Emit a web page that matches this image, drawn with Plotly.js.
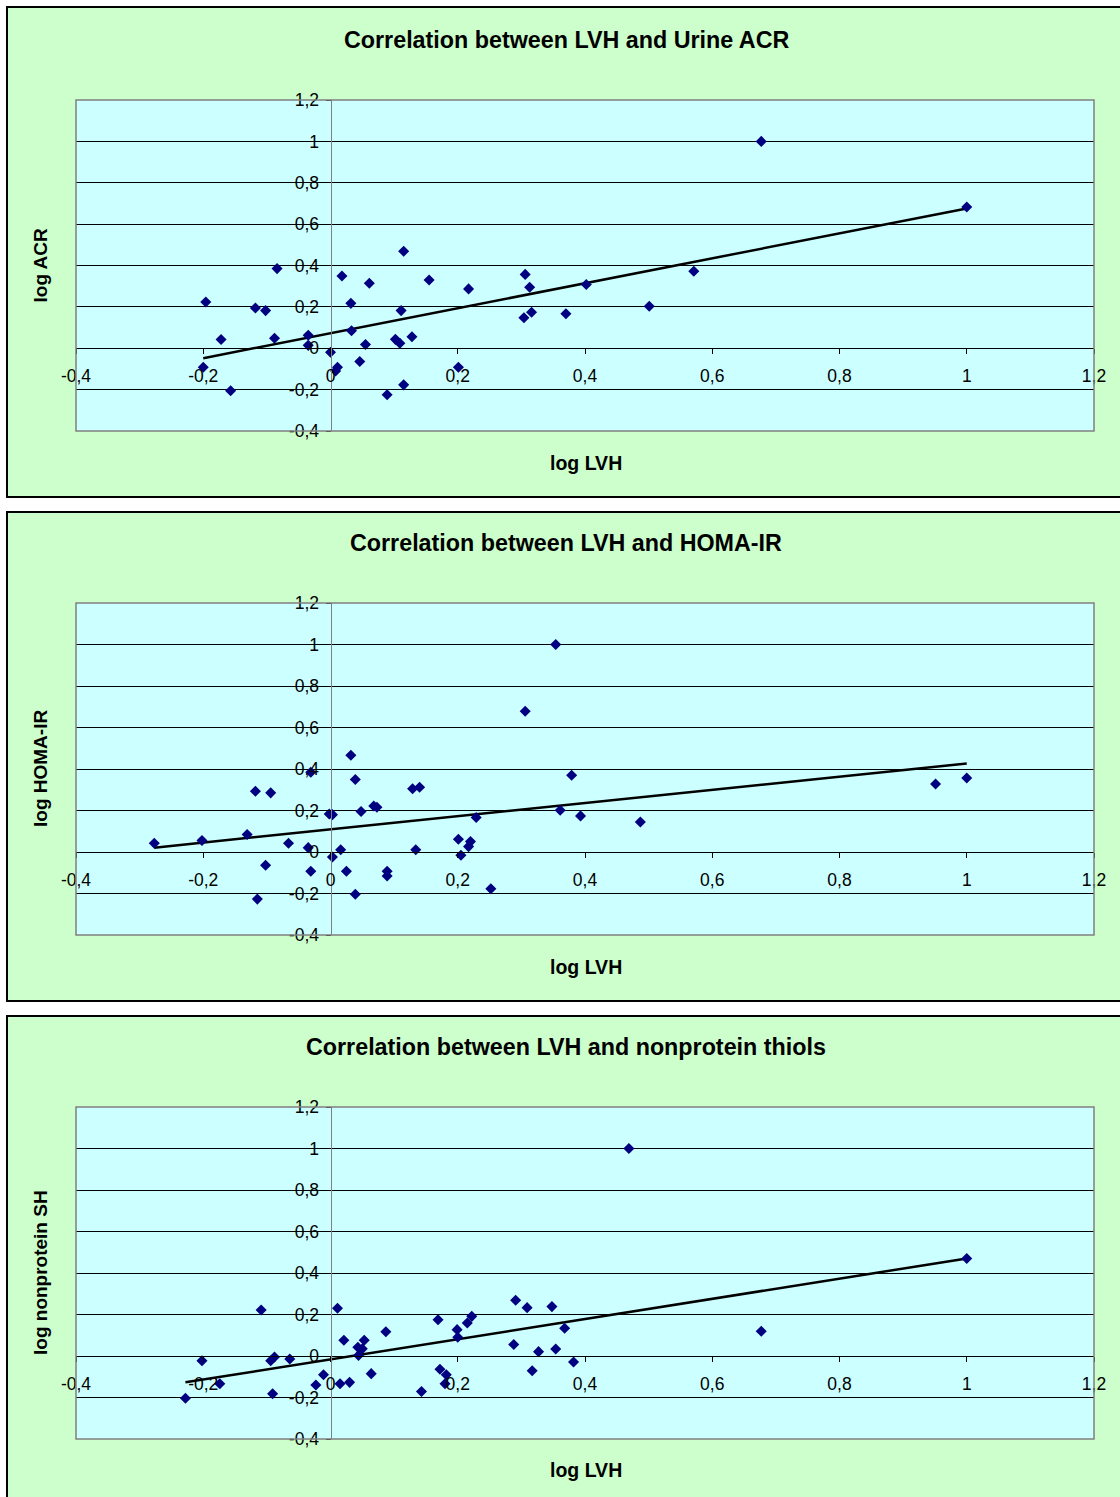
<!DOCTYPE html>
<html>
<head>
<meta charset="utf-8">
<script src="https://cdn.plot.ly/plotly-3.0.1.min.js"></script>
<style>
html,body{margin:0;padding:0;background:#fff;}
#chart{width:1120px;height:1497px;}
</style>
</head>
<body>
<div id="chart"></div>
<script>
// ---------- data ----------
var chartTitles = ["Correlation between LVH and Urine ACR",
                   "Correlation between LVH and HOMA-IR",
                   "Correlation between LVH and nonprotein thiols"];
var xTitle = "log LVH";
var yTitles = ["log ACR", "log HOMA-IR", "log nonprotein SH"];

var tickVals = [-0.4, -0.2, 0, 0.2, 0.4, 0.6, 0.8, 1, 1.2];
var tickText = ["-0,4", "-0,2", "0", "0,2", "0,4", "0,6", "0,8", "1", "1,2"];

// Panel 1: log LVH vs log ACR
var acrX = [-0.196,-0.172,-0.200,-0.157,-0.118,-0.102,-0.084,-0.088,-0.035,-0.035,0.000,0.011,0.008,0.018,0.032,0.033,0.046,0.055,0.061,0.089,0.102,0.109,0.111,0.115,0.115,0.128,0.155,0.201,0.217,0.306,0.313,0.304,0.316,0.370,0.402,0.501,0.571,0.677,1.000];
var acrY = [0.224,0.042,-0.092,-0.205,0.195,0.182,0.385,0.048,0.063,0.014,-0.019,-0.092,-0.110,0.349,0.217,0.085,-0.064,0.018,0.314,-0.225,0.043,0.024,0.182,0.469,-0.177,0.056,0.330,-0.092,0.287,0.357,0.295,0.147,0.174,0.167,0.308,0.203,0.372,1.000,0.683];
var acrTrendX = [-0.2, 1.0];
var acrTrendY = [-0.048, 0.676];

// Panel 2: log LVH vs log HOMA-IR
var homaX = [-0.277,-0.202,-0.131,-0.118,-0.094,-0.115,-0.102,-0.066,-0.035,-0.031,-0.031,-0.002,0.003,0.003,0.016,0.025,0.032,0.039,0.039,0.048,0.068,0.073,0.089,0.089,0.129,0.140,0.134,0.201,0.205,0.217,0.220,0.229,0.252,0.306,0.354,0.361,0.379,0.393,0.487,0.951,1.000];
var homaY = [0.042,0.055,0.084,0.293,0.285,-0.227,-0.064,0.042,0.021,0.384,-0.093,0.183,0.180,-0.024,0.011,-0.093,0.466,0.349,-0.204,0.195,0.222,0.216,-0.093,-0.116,0.305,0.312,0.011,0.061,-0.016,0.026,0.050,0.166,-0.177,0.678,1.000,0.201,0.370,0.174,0.145,0.328,0.357];
var homaTrendX = [-0.277, 1.0];
var homaTrendY = [0.021, 0.426];

// Panel 3: log LVH vs log nonprotein SH
var shX = [-0.228,-0.202,-0.174,-0.109,-0.094,-0.088,-0.091,-0.064,-0.023,-0.011,0.011,0.015,0.021,0.030,0.043,0.044,0.050,0.053,0.064,0.087,0.143,0.169,0.172,0.182,0.180,0.199,0.200,0.215,0.222,0.288,0.291,0.309,0.317,0.327,0.348,0.354,0.368,0.382,0.469,0.677,1.000];
var shY = [-0.204,-0.023,-0.134,0.222,-0.023,-0.005,-0.182,-0.014,-0.140,-0.090,0.230,-0.134,0.076,-0.127,0.042,0.003,0.035,0.076,-0.085,0.117,-0.171,0.175,-0.064,-0.090,-0.134,0.127,0.090,0.159,0.191,0.055,0.269,0.233,-0.071,0.021,0.238,0.034,0.134,-0.029,1.000,0.119,0.470];
var shTrendX = [-0.228, 1.0];
var shTrendY = [-0.127, 0.470];

// ---------- layout geometry ----------
var W = 1120, H = 1497;
function px(v){ return v / W; }
function py(v){ return 1 - v / H; }

var FONT = "Liberation Sans, Arial, sans-serif";
var xDom = [px(76), px(1094)];
var plotTops = [100, 603, 1107];
var plotBots = [431, 935, 1439];
var frameTops = [7, 512, 1016];
var frameBots = [497, 1001, 1512];
var titleY = [40, 543, 1047];
var xTitleY = [463, 967, 1470];

var series = [
  {x: acrX, y: acrY, tx: acrTrendX, ty: acrTrendY},
  {x: homaX, y: homaY, tx: homaTrendX, ty: homaTrendY},
  {x: shX, y: shY, tx: shTrendX, ty: shTrendY}
];

var traces = [];
var layout = {
  width: W, height: H,
  margin: {l:0, r:0, t:0, b:0},
  paper_bgcolor: "#ffffff",
  plot_bgcolor: "rgba(0,0,0,0)",
  showlegend: false,
  font: {family: FONT, color: "#000"},
  shapes: [],
  annotations: []
};

for (var i = 0; i < 3; i++) {
  var sfx = i === 0 ? "" : String(i + 1);
  var xa = "x" + sfx, ya = "y" + sfx;
  var yDom = [py(plotBots[i]), py(plotTops[i])];

  traces.push({
    x: series[i].tx, y: series[i].ty, xaxis: xa, yaxis: ya,
    mode: "lines", line: {color: "#000000", width: 2.5},
    hoverinfo: "skip"
  });
  traces.push({
    x: series[i].x, y: series[i].y, xaxis: xa, yaxis: ya,
    mode: "markers", type: "scatter",
    marker: {symbol: "diamond", size: 8.5, color: "#000080",
             line: {width: 0}}
  });

  layout["xaxis" + sfx] = {
    domain: xDom, range: [-0.4, 1.2],
    anchor: "free",
    position: yDom[0] + 0.25 * (yDom[1] - yDom[0]),
    showgrid: false, zeroline: false,
    showline: true, linecolor: "#000", linewidth: 1,
    ticks: "outside", ticklen: 5, tickcolor: "#000", tickwidth: 1,
    tickvals: tickVals, ticktext: tickText,
    tickfont: {family: FONT, size: 17.5, color: "#000"},
    ticklabelstandoff: 7,
    fixedrange: true
  };
  layout["yaxis" + sfx] = {
    domain: yDom, range: [-0.4, 1.2],
    anchor: "free",
    position: xDom[0] + 0.25 * (xDom[1] - xDom[0]),
    showgrid: true, gridcolor: "#000", gridwidth: 1,
    zeroline: false,
    showline: true, linecolor: "#808080", linewidth: 1,
    ticks: "outside", ticklen: 5, tickcolor: "#000", tickwidth: 1,
    tickvals: tickVals, ticktext: tickText,
    tickfont: {family: FONT, size: 17.5, color: "#000"},
    ticklabelstandoff: 3,
    fixedrange: true
  };

  // outer panel frame
  layout.shapes.push({
    type: "rect", xref: "paper", yref: "paper", layer: "below",
    x0: px(7), x1: px(1130), y0: py(frameBots[i]), y1: py(frameTops[i]),
    fillcolor: "#CCFFCC", line: {color: "#000", width: 2}
  });
  // plot-area background
  layout.shapes.push({
    type: "rect", xref: "paper", yref: "paper", layer: "below",
    x0: xDom[0], x1: xDom[1], y0: yDom[0], y1: yDom[1],
    fillcolor: "#CCFFFF", line: {width: 0}
  });
  // plot-area border
  layout.shapes.push({
    type: "rect", xref: xa + " domain", yref: ya + " domain", layer: "above",
    x0: 0, x1: 1, y0: 0, y1: 1,
    line: {color: "#808080", width: 1.5}
  });

  layout.annotations.push({
    text: "<b>" + chartTitles[i] + "</b>", xref: "paper", yref: "paper",
    x: px(566), y: py(titleY[i]), xanchor: "center", yanchor: "middle",
    showarrow: false, font: {family: FONT, size: 23.3, color: "#000"}
  });
  layout.annotations.push({
    text: "<b>" + xTitle + "</b>", xref: "paper", yref: "paper",
    x: px(586), y: py(xTitleY[i]), xanchor: "center", yanchor: "middle",
    showarrow: false, font: {family: FONT, size: 19.5, color: "#000"}
  });
  layout.annotations.push({
    text: "<b>" + yTitles[i] + "</b>", xref: "paper", yref: "paper",
    x: px(40), y: py((plotTops[i] + plotBots[i]) / 2), xanchor: "center", yanchor: "middle",
    textangle: -90,
    showarrow: false, font: {family: FONT, size: 19, color: "#000"}
  });
}

Plotly.newPlot("chart", traces, layout, {displayModeBar: false, staticPlot: true});
</script>
</body>
</html>
